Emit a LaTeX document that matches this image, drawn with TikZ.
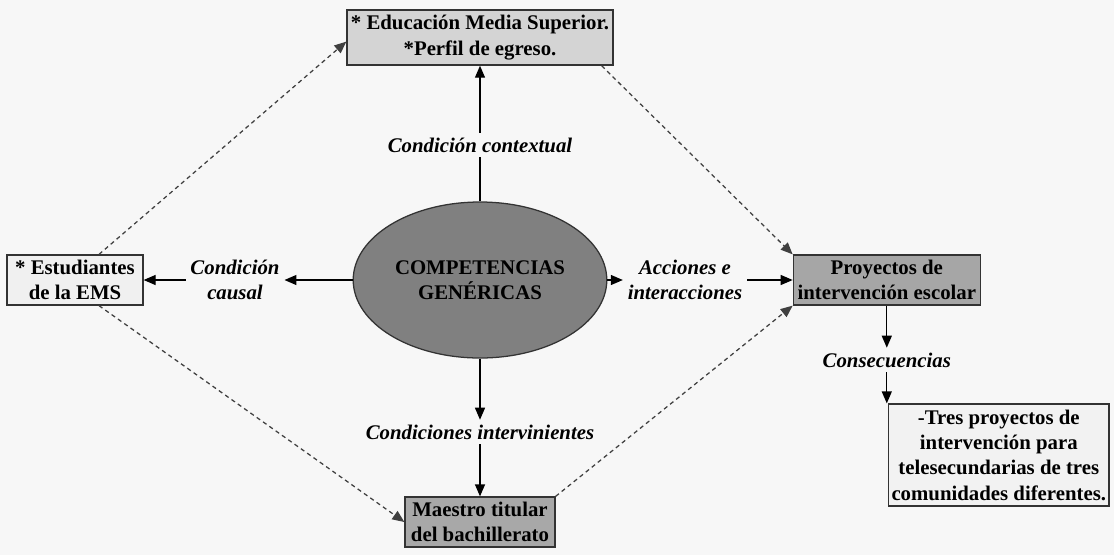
\documentclass[tikz,border=0pt]{standalone}
\usepackage{fontspec}
\setmainfont{Liberation Serif}
\usetikzlibrary{arrows.meta,shapes.geometric}
\definecolor{fondo}{HTML}{F7F7F7}
\definecolor{borde}{HTML}{333333}
\begin{document}
\begin{tikzpicture}[>={Triangle[length=3mm,width=2.5mm]},
    caja/.style={draw=borde,line width=0.9pt,align=center,inner sep=2pt,
        font=\fontsize{14.8}{18}\selectfont\bfseries},
    etiq/.style={align=center,font=\fontsize{14.8}{18}\selectfont\bfseries\itshape},
    flecha/.style={->,line width=0.9pt},
    punteada/.style={->,line width=0.9pt,black!75,dash pattern=on 3pt off 2.5pt}]
    \fill[fondo] (0,0) rectangle (27.85,-13.875);
    % cajas
    \node[caja,fill=black!17,minimum width=6.65cm,minimum height=1.375cm] (ems) at (12,-0.94) {* Educación Media Superior.\\*Perfil de egreso.};
    \node[caja,fill=black!6,minimum width=3.4cm,minimum height=1.25cm] (est) at (1.875,-7.0) {* Estudiantes\\de la EMS};
    \node[ellipse,draw=borde,line width=0.9pt,fill=black!50,minimum width=5.9cm,minimum height=3.9cm,align=center,
        font=\fontsize{14.8}{18}\selectfont\bfseries] (comp) at (12,-7.0) {COMPETENCIAS\\GENÉRICAS};
    \node[caja,fill=black!35,minimum width=4.675cm,minimum height=1.25cm] (proy) at (22.17,-7.0) {Proyectos de\\intervención escolar};
    \node[caja,fill=black!5,minimum width=5.5cm,minimum height=2.55cm] (tres) at (24.97,-11.375) {-Tres proyectos de\\intervención para\\telesecundarias de tres\\comunidades diferentes.};
    \node[caja,fill=black!34,minimum width=3.75cm,minimum height=1.25cm] (maes) at (12,-13.05) {Maestro titular\\del bachillerato};
    % condiciones
    \node[etiq] (ctx) at (12,-3.625) {Condición contextual};
    \node[etiq] (causal) at (5.875,-7.0) {Condición\\causal};
    \node[etiq] (acc) at (17.125,-7.0) {Acciones e\\interacciones};
    \node[etiq] (interv) at (12,-10.8) {Condiciones intervinientes};
    \node[etiq] (cons) at (22.17,-9.0) {Consecuencias};
    % flechas
    \draw[line width=0.9pt] (comp) -- (ctx);
    \draw[flecha] (ctx) -- (ems);
    \draw[flecha] (comp) -- (causal);
    \draw[flecha] (causal) -- (est);
    \draw[flecha] (comp) -- (acc);
    \draw[flecha] (acc) -- (proy);
    \draw[flecha] (comp) -- (interv);
    \draw[flecha] (interv) -- (maes);
    \draw[flecha] (proy) -- (cons);
    \draw[flecha] (cons) -- (cons |- tres.north);
    % punteadas
    \draw[punteada] ([xshift=0.6cm]est.north) -- ([yshift=-0.1cm]ems.west);
    \draw[punteada] ([xshift=0.6cm]est.south) -- (maes.west);
    \draw[punteada] ([xshift=-0.3cm]ems.south east) -- (proy.north west);
    \draw[punteada] (maes.north east) -- (proy.south west);
\end{tikzpicture}
\end{document}
